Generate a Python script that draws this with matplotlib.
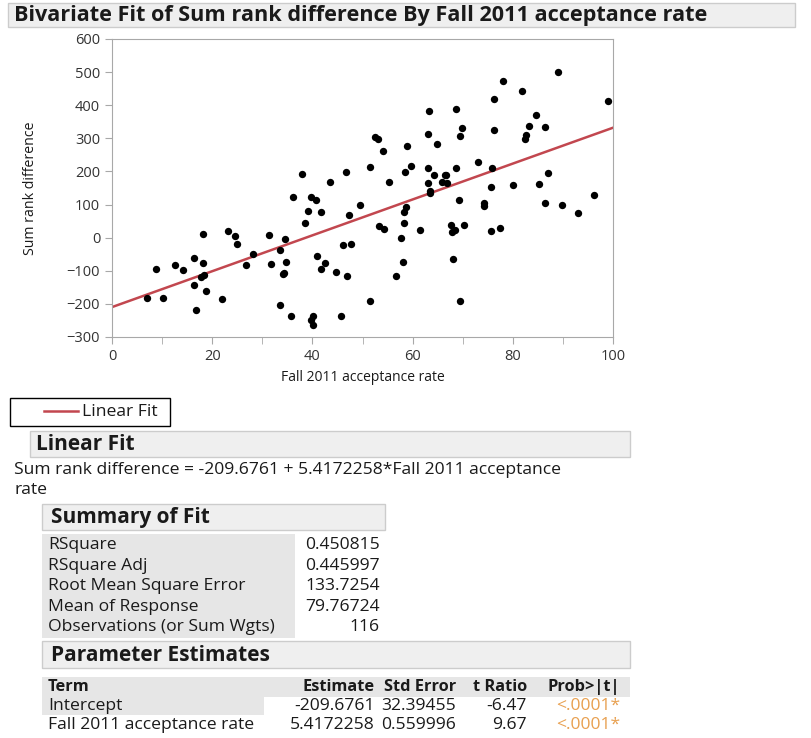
import matplotlib.pyplot as plt
from matplotlib.patches import Rectangle
import numpy as np

plt.rcParams['font.family'] = ['Open Sans', 'DejaVu Sans']

# observations: Fall 2011 acceptance rate vs sum rank difference
acceptance = [7.0, 8.8, 10.1, 12.6, 14.1, 16.3, 16.3, 16.7, 18.2, 18.2,
              18.4, 18.8, 22.0, 23.2, 24.5, 25.0, 26.7, 28.2, 17.8, 31.3,
              31.7, 33.5, 33.6, 34.2, 34.5, 34.8, 35.7, 36.1, 38.0, 38.5,
              39.2, 39.7, 39.7, 40.1, 40.2, 40.8, 41.0, 41.7, 41.7, 42.6,
              43.6, 44.8, 45.8, 46.1, 46.7, 47.0, 47.4, 47.7, 49.6, 51.4,
              51.4, 53.2, 54.2, 52.4, 53.0, 54.1, 55.2, 56.7, 57.7, 58.0,
              58.3, 58.3, 58.5, 58.7, 58.9, 59.6, 61.4, 63.0, 63.0, 63.0,
              63.3, 63.5, 63.5, 64.3, 64.9, 65.8, 66.7, 66.9, 67.7, 67.9,
              68.0, 68.5, 68.7, 68.7, 69.3, 69.5, 69.5, 69.9, 70.2, 73.0,
              74.3, 74.3, 75.6, 75.6, 75.8, 76.2, 76.2, 77.4, 78.1, 80.0,
              81.8, 82.4, 82.7, 83.3, 84.6, 85.2, 86.5, 86.5, 87.0, 89.0,
              89.9, 93.1, 96.2, 99.1, 66.5, 34.3]
rank_diff = [-181, -94, -181, -82, -98, -60, -142, -217, 11, -75,
             -114, -162, -185, 19, 5, -20, -83, -49, -119, 7,
             -79, -202, -38, -109, -4, -72, -237, 124, 191, 45,
             82, 124, -249, -237, -265, 113, -56, 79, -94, -76,
             169, -105, -237, -23, 198, -116, 67, -20, 98, 213,
             -191, 34, 26, 304, 297, 262, 168, -116, 0, -72,
             45, 79, 198, 93, 277, 217, 23, 210, 165, 314,
             383, 141, 134, 188, 284, 169, 188, 165, 37, 18,
             -64, 23, 210, 390, 113, 307, -192, 331, 37, 229,
             104, 96, 154, 19, 210, 420, 326, 30, 473, 158,
             443, 297, 311, 338, 371, 162, 334, 105, 195, 499,
             98, 75, 128, 413, 190, -108]

# fitted line
intercept = -209.6761
slope = 5.4172258

summary_labels = ["RSquare", "RSquare Adj", "Root Mean Square Error",
                  "Mean of Response", "Observations (or Sum Wgts)"]
summary_values = ["0.450815", "0.445997", "133.7254", "79.76724", "116"]

param_cols = ["Term", "Estimate", "Std Error", "t Ratio", "Prob>|t|"]
param_terms = ["Intercept", "Fall 2011 acceptance rate"]
param_estimates = ["-209.6761", "5.4172258"]
param_stderr = ["32.39455", "0.559996"]
param_tratio = ["-6.47", "9.67"]
param_prob = ["<.0001*", "<.0001*"]

W, H = 811, 738
fig = plt.figure(figsize=(W / 100, H / 100), dpi=100)

# overlay in pixel units for the report boxes and text
ov = fig.add_axes([0, 0, 1, 1])
ov.set_xlim(0, W)
ov.set_ylim(H, 0)
ov.axis('off')

hdr_fc, hdr_ec = '#efefef', '#cccccc'
cell_fc = '#e6e6e6'
txt = '#1a1a1a'
body = 12.6
head = 15


def header(x, y, w, h, label, size=head, pad=6):
    ov.add_patch(Rectangle((x, y), w, h, fc=hdr_fc, ec=hdr_ec, lw=1))
    ov.text(x + pad, y + h / 2 + 1, label, fontsize=size, fontweight='bold',
            va='center', ha='left', color=txt)


header(8, 3, 787, 24, "Bivariate Fit of Sum rank difference By Fall 2011 acceptance rate",
       size=15.6)

# scatter plot
ax = fig.add_axes([112 / W, 1 - 337 / H, 501 / W, 298 / H])
ax.scatter(acceptance, rank_diff, s=28, c='black', linewidths=0, zorder=3)
xs = np.array([0, 100])
fit_line, = ax.plot(xs, intercept + slope * xs, color='#c2474f', lw=1.8, zorder=2)
ax.set_xlim(0, 100)
ax.set_ylim(-300, 600)
ax.set_xticks(np.arange(0, 101, 20))
ax.set_xticks(np.arange(10, 100, 20), minor=True)
ax.set_yticks(np.arange(-300, 601, 100))
for s in ax.spines.values():
    s.set_color('#a8a8a8')
ax.tick_params(which='both', direction='out', length=5, color='#a8a8a8',
               labelsize=10.5, labelcolor='#333333')
ax.set_xlabel("Fall 2011 acceptance rate", fontsize=10, color=txt)
ax.xaxis.set_label_coords(0.5, -0.11)
ax.set_ylabel("Sum rank difference", fontsize=10.2, color=txt)
ax.yaxis.set_label_coords(-0.148, 0.5)

# legend box
ov.add_patch(Rectangle((10, 398), 160, 28, fc='white', ec='black', lw=1))
ov.plot([44, 78], [411, 411], color=fit_line.get_color(), lw=1.8)
ov.text(82, 412, "Linear Fit", fontsize=body, va='center', color=txt)

# linear fit section
header(30, 431, 600, 26, "Linear Fit")
ov.text(14, 470, f"Sum rank difference = {intercept:.4f} + {slope:.7f}*Fall 2011 acceptance",
        fontsize=body, va='center', color=txt)
ov.text(14, 490, "rate", fontsize=body, va='center', color=txt)

# summary of fit
header(42, 504, 343, 26, "Summary of Fit", pad=9)
row_y = 545
ov.add_patch(Rectangle((42, 534), 253, 104, fc=cell_fc, ec='none'))
for lab, val in zip(summary_labels, summary_values):
    ov.text(48, row_y, lab, fontsize=body, va='center', color=txt)
    ov.text(380, row_y, val, fontsize=body, va='center', ha='right', color=txt)
    row_y += 20.6

# parameter estimates
header(42, 641, 588, 27, "Parameter Estimates", pad=9)
ov.add_patch(Rectangle((42, 677), 588, 20, fc=cell_fc, ec='none'))
ov.add_patch(Rectangle((42, 697), 222, 18, fc=cell_fc, ec='none'))
col_x = [48, 375, 456, 527, 620]
for i, c in enumerate(param_cols):
    ov.text(col_x[i], 687, c, fontsize=11.8, fontweight='bold', va='center',
            ha='left' if i == 0 else 'right', color=txt)
row_y = 706
for term, est, se, tr, pr in zip(param_terms, param_estimates, param_stderr,
                                 param_tratio, param_prob):
    ov.text(col_x[0], row_y, term, fontsize=body, va='center', color=txt)
    ov.text(col_x[1], row_y, est, fontsize=body, va='center', ha='right', color=txt)
    ov.text(col_x[2], row_y, se, fontsize=body, va='center', ha='right', color=txt)
    ov.text(col_x[3], row_y, tr, fontsize=body, va='center', ha='right', color=txt)
    ov.text(col_x[4], row_y, pr, fontsize=body, va='center', ha='right', color='#e8a050')
    row_y += 19

fig.savefig("out.png", dpi=100)
